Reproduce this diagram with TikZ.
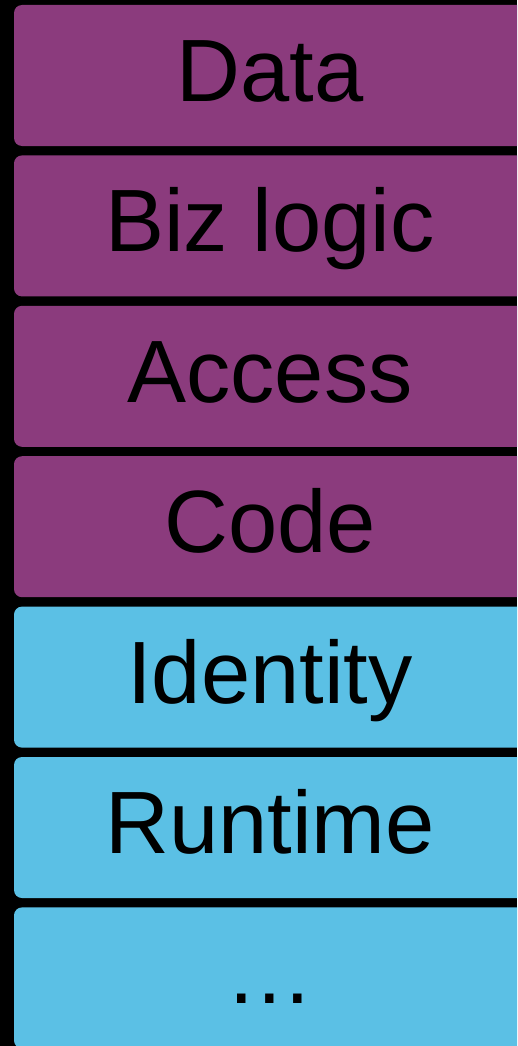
\documentclass[tikz,border=0pt]{standalone}
\usepackage{fontspec}
\setmainfont{Liberation Sans}
\definecolor{stackpurple}{HTML}{8B3B7D}
\definecolor{stackblue}{HTML}{5BC0E5}

\begin{document}
\begin{tikzpicture}[
  x=1pt,y=1pt,
  layer/.style={draw=none,rounded corners=8pt,minimum width=512pt,minimum height=141pt,
    inner sep=0pt,text height=66pt,text depth=14pt,font=\fontsize{88.5}{100}\selectfont,text=black},
  app/.style={layer,fill=stackpurple},
  platform/.style={layer,fill=stackblue},
]
\clip (0,0) rectangle (517,-1046);
\fill[black] (0,0) rectangle (517,-1046);
\node[app] (data) at (270,-75.5) {Data};
\node[app] (bizlogic) at (270,-225.9) {Biz logic};
\node[app] (access) at (270,-376.3) {Access};
\node[app] (code) at (270,-526.7) {Code};
\node[platform] (identity) at (270,-677.1) {Identity};
\node[platform] (runtime) at (270,-827.5) {Runtime};
\node[platform] (more) at (270,-977.9) {…};
\end{tikzpicture}
\end{document}
